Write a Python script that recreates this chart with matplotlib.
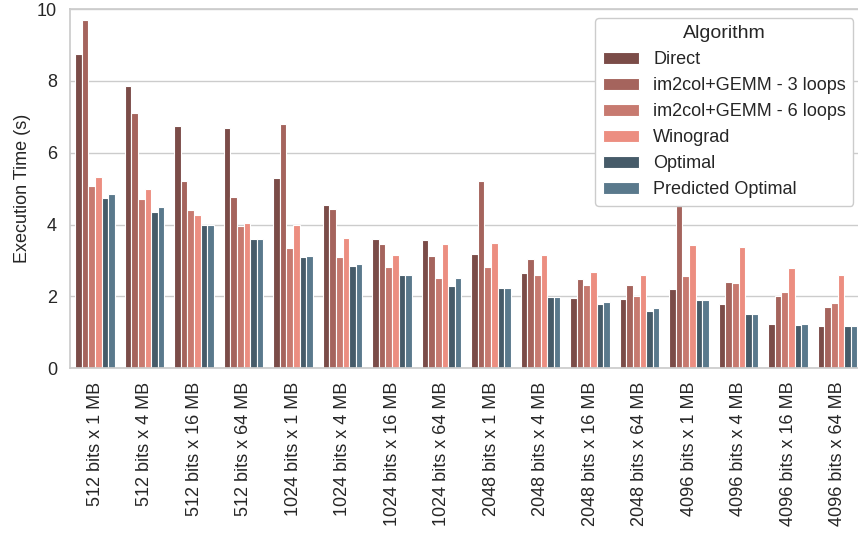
import matplotlib
matplotlib.use("Agg")
import matplotlib.pyplot as plt
import pandas as pd
import seaborn as sns

# конфигурации (ширина ключа x объём данных)
configs = [
    "512 bits x 1 MB", "512 bits x 4 MB", "512 bits x 16 MB", "512 bits x 64 MB",
    "1024 bits x 1 MB", "1024 bits x 4 MB", "1024 bits x 16 MB", "1024 bits x 64 MB",
    "2048 bits x 1 MB", "2048 bits x 4 MB", "2048 bits x 16 MB", "2048 bits x 64 MB",
    "4096 bits x 1 MB", "4096 bits x 4 MB", "4096 bits x 16 MB", "4096 bits x 64 MB",
]
algorithms = ["Direct", "im2col+GEMM - 3 loops", "im2col+GEMM - 6 loops",
              "Winograd", "Optimal", "Predicted Optimal"]

# время выполнения, с
direct = [8.76, 7.85, 6.74, 6.68, 5.29, 4.54, 3.60, 3.56,
          3.17, 2.64, 1.96, 1.92, 2.21, 1.79, 1.22, 1.19]
gemm3 = [9.69, 7.11, 5.21, 4.76, 6.80, 4.44, 3.45, 3.12,
         5.22, 3.05, 2.49, 2.32, 5.20, 2.40, 2.01, 1.71]
gemm6 = [5.07, 4.72, 4.40, 3.96, 3.35, 3.10, 2.83, 2.51,
         2.82, 2.60, 2.32, 2.02, 2.58, 2.36, 2.11, 1.82]
winograd = [5.33, 5.00, 4.26, 4.05, 3.98, 3.64, 3.15, 3.45,
            3.48, 3.15, 2.68, 2.60, 3.42, 3.37, 2.79, 2.61]
optimal = [4.73, 4.36, 3.98, 3.61, 3.10, 2.86, 2.59, 2.30,
           2.23, 1.99, 1.79, 1.59, 1.91, 1.50, 1.20, 1.17]
predicted = [4.85, 4.48, 3.98, 3.61, 3.12, 2.89, 2.59, 2.51,
             2.23, 1.99, 1.84, 1.67, 1.91, 1.50, 1.22, 1.19]

palette = ["#7b4c48", "#a5645d", "#c77a70", "#ec8e81", "#465b69", "#5a798c"]

series = [direct, gemm3, gemm6, winograd, optimal, predicted]
df = pd.DataFrame([
    {"Config": c, "Algorithm": a, "Time": v}
    for a, vals in zip(algorithms, series)
    for c, v in zip(configs, vals)
])

sns.set_theme(style="whitegrid")
plt.rcParams["font.family"] = ["Liberation Sans", "DejaVu Sans"]

fig = plt.figure(figsize=(8.58, 5.36), dpi=100)
ax = fig.add_axes([0.0819, 0.3129, 0.9231, 0.6703])

sns.barplot(data=df, x="Config", y="Time", hue="Algorithm", order=configs,
            hue_order=algorithms, palette=palette, saturation=1,
            edgecolor="white", linewidth=0.8, ax=ax)

ax.set_ylim(0, 10)
ax.set_xlim(-0.5, len(configs) - 0.5)
ax.set_xlabel("")
ax.set_ylabel("Execution Time (s)", fontsize=13)
ax.tick_params(axis="both", labelsize=13)
ax.tick_params(axis="x", rotation=90)

ax.legend(title="Algorithm", loc="upper right", fontsize=13,
          title_fontsize=14, framealpha=1)

fig.savefig("out.png", dpi=100)
